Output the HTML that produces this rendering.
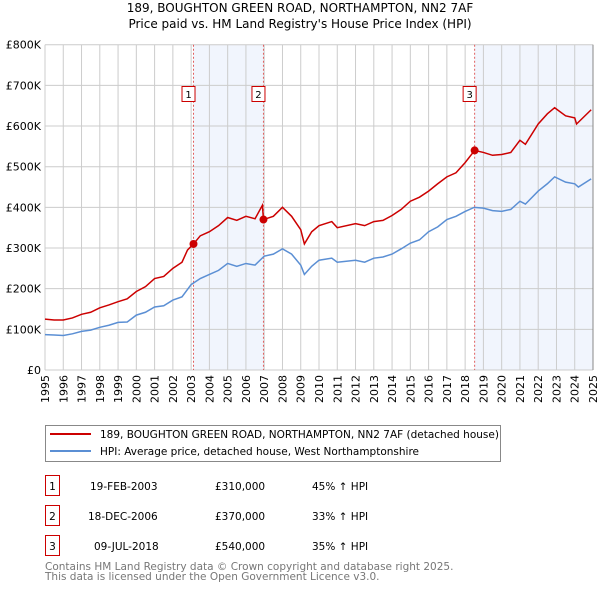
<!DOCTYPE html>
<html><head><meta charset="utf-8"><style>
body{margin:0;background:#fff;font-family:"DejaVu Sans","Liberation Sans",sans-serif;}
svg{display:block}
</style></head><body>
<svg id="c" width="600" height="590" xmlns="http://www.w3.org/2000/svg" font-family="DejaVu Sans, Liberation Sans, sans-serif">
<text x="300" y="12" text-anchor="middle" font-size="12">189, BOUGHTON GREEN ROAD, NORTHAMPTON, NN2 7AF</text>
<text x="300" y="28" text-anchor="middle" font-size="12">Price paid vs. HM Land Registry's House Price Index (HPI)</text>
<g id="plot"></g>
<g>
<rect x="45.5" y="425.5" width="455" height="36" fill="#fff" stroke="#888"/>
<line x1="50" y1="434" x2="91" y2="434" stroke="#cc0000" stroke-width="2"/>
<text x="100" y="438" font-size="10.5">189, BOUGHTON GREEN ROAD, NORTHAMPTON, NN2 7AF (detached house)</text>
<line x1="50" y1="451" x2="91" y2="451" stroke="#5b8fd4" stroke-width="2"/>
<text x="100" y="455" font-size="10.5">HPI: Average price, detached house, West Northamptonshire</text>
</g>
<g font-size="10.5">
<rect x="45.5" y="475.5" width="14" height="20" fill="#fff" stroke="#cc0000"/>
<text x="52.5" y="490" text-anchor="middle">1</text>
<text x="90" y="490">19-FEB-2003</text>
<text x="215" y="490">£310,000</text>
<text x="312" y="490">45% ↑ HPI</text>
<rect x="45.5" y="505.5" width="14" height="20" fill="#fff" stroke="#cc0000"/>
<text x="52.5" y="520" text-anchor="middle">2</text>
<text x="88" y="520">18-DEC-2006</text>
<text x="215" y="520">£370,000</text>
<text x="312" y="520">33% ↑ HPI</text>
<rect x="45.5" y="535.5" width="14" height="20" fill="#fff" stroke="#cc0000"/>
<text x="52.5" y="550" text-anchor="middle">3</text>
<text x="94" y="550">09-JUL-2018</text>
<text x="215" y="550">£540,000</text>
<text x="312" y="550">35% ↑ HPI</text>
</g>
<text x="45" y="570" font-size="10.5" fill="#777">Contains HM Land Registry data © Crown copyright and database right 2025.</text>
<text x="45" y="580" font-size="10.5" fill="#777">This data is licensed under the Open Government Licence v3.0.</text>
</svg>
<script>
const hpiYears=[1995,1995.5,1996,1996.5,1997,1997.5,1998,1998.5,1999,1999.5,2000,2000.5,2001,2001.5,2002,2002.5,2003,2003.5,2004,2004.5,2005,2005.5,2006,2006.5,2007,2007.5,2008,2008.5,2009,2009.2,2009.6,2010,2010.7,2011,2012,2012.5,2013,2013.5,2014,2014.5,2015,2015.5,2016,2016.5,2017,2017.5,2018,2018.5,2019,2019.5,2020,2020.5,2021,2021.3,2022,2022.5,2022.9,2023.5,2024,2024.2,2024.9];
const hpiValues=[87,86,85,89,95,98,105,110,117,118,135,142,155,158,172,180,210,225,235,245,262,255,262,258,280,285,298,285,258,235,255,270,275,265,270,265,275,278,285,298,312,320,340,352,370,378,390,400,398,392,390,395,415,408,440,458,475,462,458,450,470];
const priceYears=[1995,1995.5,1996,1996.5,1997,1997.5,1998,1998.5,1999,1999.5,2000,2000.5,2001,2001.5,2002,2002.5,2002.8,2003.13,2003.5,2004,2004.5,2005,2005.5,2006,2006.5,2006.9,2006.96,2007.5,2008,2008.5,2009,2009.2,2009.6,2010,2010.7,2011,2012,2012.5,2013,2013.5,2014,2014.5,2015,2015.5,2016,2016.5,2017,2017.5,2018,2018.52,2019,2019.5,2020,2020.5,2021,2021.3,2022,2022.5,2022.9,2023.5,2024,2024.1,2024.9];
const priceValues=[125,123,123,128,137,142,153,160,168,175,193,205,225,230,250,265,295,310,330,340,355,375,368,378,372,405,370,378,400,378,345,310,340,355,365,350,360,355,365,368,380,395,415,425,440,458,475,485,510,540,535,528,530,535,565,555,605,630,645,625,620,605,640];
const sales=[{x:2003.13,v:310,l:"1"},{x:2006.96,v:370,l:"2"},{x:2018.52,v:540,l:"3"}];
const yTicks=[0,100,200,300,400,500,600,700,800];
const yTickLabels=["£0","£100K","£200K","£300K","£400K","£500K","£600K","£700K","£800K"];
const xTicks=[1995,1996,1997,1998,1999,2000,2001,2002,2003,2004,2005,2006,2007,2008,2009,2010,2011,2012,2013,2014,2015,2016,2017,2018,2019,2020,2021,2022,2023,2024,2025];

const L=45,R=593,T=44.7,B=370;
const xs=y=>L+(y-1995)/30*(R-L);
const ys=v=>B-v/800*(B-T);
const NS="http://www.w3.org/2000/svg";
const g=document.getElementById('plot');
function mk(t,a,p){const e=document.createElementNS(NS,t);for(const k in a)e.setAttribute(k,a[k]);(p||g).appendChild(e);return e;}

let s1=mk('rect',{x:xs(sales[0].x),y:T,width:xs(sales[1].x)-xs(sales[0].x),height:B-T,fill:'#eef3fc',opacity:0.8});


let s2=mk('rect',{x:xs(sales[2].x),y:T,width:R-xs(sales[2].x),height:B-T,fill:'#eef3fc',opacity:0.8});



yTicks.forEach((t,i)=>{
  let ln=mk('line',{x1:L,x2:R,y1:ys(t),y2:ys(t),stroke:'#ccc','stroke-width':1});
  
  
  let tx=mk('text',{x:L-4,y:ys(t)+4,'text-anchor':'end','font-size':11});
  
  
  tx.textContent=yTickLabels[i];
});
xTicks.forEach(t=>{
  let ln=mk('line',{x1:xs(t),x2:xs(t),y1:T,y2:B,stroke:'#ccc','stroke-width':1});
  
  
  let tx=mk('text',{x:0,y:0,'text-anchor':'end','font-size':11,transform:`translate(${xs(t)+4},${B+5}) rotate(-90)`});
  
  
  tx.textContent=t;
});

sales.forEach(s=>{
  let ln=mk('line',{x1:xs(s.x),x2:xs(s.x),y1:T,y2:B,stroke:'#e06060','stroke-width':1,'stroke-dasharray':'2,2'});
  
  
  let bx=mk('rect',{x:xs(s.x)-11.5,y:86.5,width:13,height:15,fill:'#fff',stroke:'#cc0000'});
  
  
  let tx=mk('text',{x:xs(s.x)-5,y:98,'text-anchor':'middle','font-size':10});
  
  
  tx.textContent=s.l;
});

let hp=mk('polyline',{points:hpiYears.map((y,i)=>xs(y)+','+ys(hpiValues[i])).join(' '),fill:'none',stroke:'#5b8fd4','stroke-width':1.5});


let pp=mk('polyline',{points:priceYears.map((y,i)=>xs(y)+','+ys(priceValues[i])).join(' '),fill:'none',stroke:'#cc0000','stroke-width':1.5});


sales.forEach(s=>{
  let c=mk('circle',{cx:xs(s.x),cy:ys(s.v),r:4,fill:'#cc0000'});
  
  
});
let ax=mk('line',{x1:R,x2:R,y1:T,y2:B,stroke:'#888'});


</script>
</body></html>
